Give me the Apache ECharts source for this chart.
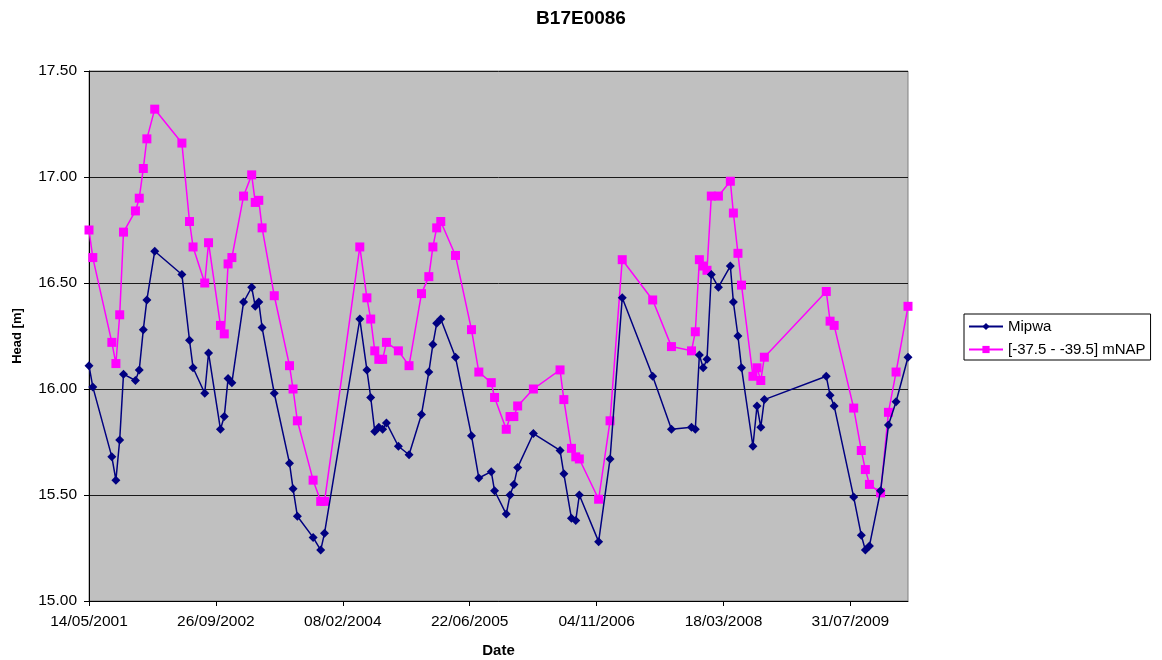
<!DOCTYPE html>
<html>
<head>
<meta charset="utf-8">
<script src="https://cdn.jsdelivr.net/npm/echarts@6/dist/echarts.min.js"></script>
<style>html,body{margin:0;padding:0;background:#fff}#c{width:1162px;height:660px}</style>
</head>
<body>
<div id="c"></div>
<script>
const startDate = '2001-05-14';
const dates = [
'2001-05-14','2001-05-29','2001-08-12','2001-08-28','2001-09-12','2001-09-27','2001-11-13','2001-11-28','2001-12-14','2001-12-28',
'2002-01-28','2002-05-15','2002-06-14','2002-06-28','2002-08-13','2002-08-28','2002-10-14','2002-10-29','2002-11-13','2002-11-28',
'2003-01-13','2003-02-14','2003-02-28','2003-03-14','2003-03-27','2003-05-14','2003-07-13','2003-07-27','2003-08-13','2003-10-14',
'2003-11-13','2003-11-28','2004-04-15','2004-05-13','2004-05-28','2004-06-13','2004-06-29','2004-07-14','2004-07-29','2004-09-14',
'2004-10-26','2004-12-14','2005-01-12','2005-01-28','2005-02-12','2005-02-28','2005-04-27','2005-06-29','2005-07-28','2005-09-15',
'2005-09-28','2005-11-13','2005-11-28','2005-12-13','2005-12-28','2006-02-28','2006-06-13','2006-06-28','2006-07-28','2006-08-14',
'2006-08-28','2006-11-12','2006-12-27','2007-02-13','2007-06-13','2007-08-26','2007-11-13','2007-11-28','2007-12-14','2007-12-29',
'2008-01-13','2008-01-30','2008-02-27','2008-04-14','2008-04-26','2008-05-14','2008-05-28','2008-07-12','2008-07-28','2008-08-12',
'2008-08-26','2009-04-27','2009-05-12','2009-05-28','2009-08-13','2009-09-12','2009-09-28','2009-10-14','2009-11-27','2009-12-28',
'2010-01-27','2010-03-15'
];
const mipwa = [
16.11,16.01,15.68,15.57,15.76,16.07,16.04,16.09,16.28,16.42,
16.65,16.54,16.23,16.10,15.98,16.17,15.81,15.87,16.05,16.03,
16.41,16.48,16.39,16.41,16.29,15.98,15.65,15.53,15.40,15.30,
15.24,15.32,16.33,16.09,15.96,15.80,15.82,15.81,15.84,15.73,
15.69,15.88,16.08,16.21,16.31,16.33,16.15,15.78,15.58,15.61,
15.52,15.41,15.50,15.55,15.63,15.79,15.71,15.60,15.39,15.38,
15.50,15.28,15.67,16.43,16.06,15.81,15.82,15.81,16.16,16.10,
16.14,16.54,16.48,16.58,16.41,16.25,16.10,15.73,15.92,15.82,
15.95,16.06,15.97,15.92,15.49,15.31,15.24,15.26,15.52,15.83,
15.94,16.15
];
const measured = [
16.75,16.62,16.22,16.12,16.35,16.74,16.84,16.90,17.04,17.18,
17.32,17.16,16.79,16.67,16.50,16.69,16.30,16.26,16.59,16.62,
16.91,17.01,16.88,16.89,16.76,16.44,16.11,16.00,15.85,15.57,
15.47,15.47,16.67,16.43,16.33,16.18,16.14,16.14,16.22,16.18,
16.11,16.45,16.53,16.67,16.76,16.79,16.63,16.28,16.08,16.03,
15.96,15.81,15.87,15.87,15.92,16.00,16.09,15.95,15.72,15.68,
15.67,15.48,15.85,16.61,16.42,16.20,16.18,16.27,16.61,16.58,
16.56,16.91,16.91,16.98,16.83,16.64,16.49,16.06,16.10,16.04,
16.15,16.46,16.32,16.30,15.91,15.71,15.62,15.55,15.51,15.89,
16.08,16.39
];
const seriesNames = ['Mipwa', '[-37.5 - -39.5] mNAP'];
const yTicks = [15.00, 15.50, 16.00, 16.50, 17.00, 17.50];
const xTickStepDays = 500;

const DAY = 86400000;
const t0 = Date.parse(startDate + 'T00:00:00Z');
const toDay = s => Math.round((Date.parse(s + 'T00:00:00Z') - t0) / DAY);
const dayNums = dates.map(toDay);
function fmt(v) {
  const d = new Date(t0 + v * DAY);
  const p = n => String(n).padStart(2, '0');
  return p(d.getUTCDate()) + '/' + p(d.getUTCMonth() + 1) + '/' + d.getUTCFullYear();
}
const font = 'Liberation Sans, Arial, sans-serif';
const chart = echarts.init(document.getElementById('c'), null, {renderer: 'canvas'});
chart.setOption({
  animation: false,
  backgroundColor: '#ffffff',
  title: {
    text: 'B17E0086', left: 'center', top: 4,
    textStyle: {fontFamily: font, fontSize: 19, fontWeight: 'bold', color: '#000'}
  },
  legend: {
    orient: 'vertical', left: 964, top: 314,
    backgroundColor: '#ffffff', borderColor: '#000', borderWidth: 1,
    padding: [5, 5, 3, 4], itemGap: 8, itemWidth: 34, itemHeight: 9,
    textStyle: {fontFamily: font, fontSize: 15, color: '#000'},
    data: seriesNames
  },
  grid: {
    left: 89, right: 254, top: 71, bottom: 59,
    outerBoundsMode: 'none', containLabel: false,
    show: true, backgroundColor: '#C0C0C0', borderColor: '#808080', borderWidth: 1
  },
  xAxis: {
    type: 'value', min: 0, max: dayNums[dayNums.length - 1], interval: xTickStepDays,
    name: 'Date', nameLocation: 'middle', nameGap: 42,
    nameTextStyle: {fontFamily: font, fontSize: 15, fontWeight: 'bold', color: '#000'},
    axisLine: {show: true, lineStyle: {color: '#000', width: 1}},
    axisTick: {show: true, inside: false, length: 5, lineStyle: {color: '#000'}},
    axisLabel: {fontFamily: font, fontSize: 15.5, color: '#000', margin: 13, formatter: v => fmt(v), showMaxLabel: false},
    splitLine: {show: false}
  },
  yAxis: {
    type: 'value', min: yTicks[0], max: yTicks[yTicks.length - 1], interval: 0.5,
    name: 'Head [m]', nameLocation: 'middle', nameGap: 65, nameRotate: 90,
    nameTextStyle: {fontFamily: font, fontSize: 13, fontWeight: 'bold', color: '#000'},
    axisLine: {show: true, lineStyle: {color: '#000', width: 1}},
    axisTick: {show: true, inside: false, length: 5, lineStyle: {color: '#000'}},
    axisLabel: {fontFamily: font, fontSize: 15.5, color: '#000', margin: 12, formatter: v => v.toFixed(2)},
    splitLine: {show: true, lineStyle: {color: '#1a1a1a', width: 1}}
  },
  series: [
    {
      name: seriesNames[0], type: 'line',
      data: dayNums.map((d, i) => [d, mipwa[i]]),
      symbol: 'diamond', symbolSize: 9,
      itemStyle: {color: '#000080'},
      lineStyle: {color: '#000080', width: 1.5},
      z: 3
    },
    {
      name: seriesNames[1], type: 'line',
      data: dayNums.map((d, i) => [d, measured[i]]),
      symbol: 'rect', symbolSize: 9,
      itemStyle: {color: '#FF00FF'},
      lineStyle: {color: '#FF00FF', width: 1.5},
      z: 2
    }
  ]
});
</script>
</body>
</html>
